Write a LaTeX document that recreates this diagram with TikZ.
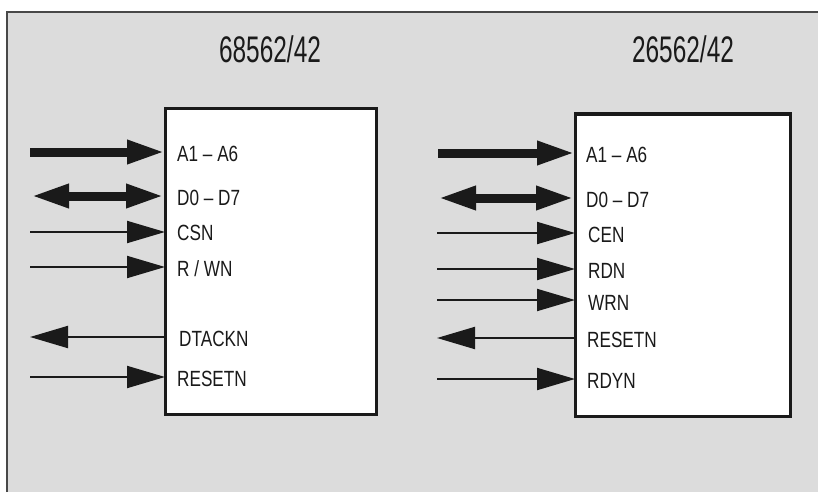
\documentclass[tikz,border=0pt]{standalone}
\usepackage{fontspec}
\setmainfont[FakeStretch=0.78]{Liberation Sans}
\newfontfamily\ttlfont[FakeStretch=0.66]{Liberation Sans}
\usetikzlibrary{arrows.meta}
\definecolor{bg}{HTML}{DCDCDC}
\definecolor{ink}{HTML}{1A1A1A}
\tikzset{
  chip/.style={draw=ink, line width=3pt, fill=white, inner sep=0pt, outer sep=0pt},
  lbl/.style={anchor=west, inner sep=0pt, font=\fontsize{22}{22}\selectfont, text=ink},
  ttl/.style={inner sep=0pt, font=\ttlfont\fontsize{37}{37}\selectfont, text=ink},
  bus/.style={draw=ink, line width=9pt, -{Triangle[length=38pt,width=22pt]}},
  bibus/.style={draw=ink, line width=9pt, {Triangle[length=38pt,width=22pt]}-{Triangle[length=38pt,width=22pt]}},
  sig/.style={draw=ink, line width=2pt, -{Triangle[length=38pt,width=22pt]}},
}
\begin{document}
\begin{tikzpicture}[x=1pt,y=-1pt]
\useasboundingbox (0,0) rectangle (818,492);
\fill[white] (0,0) rectangle (818,492);
\fill[bg] (7,12) rectangle (818,492);
\draw[ink!80, line width=1.5pt] (7,492) -- (7,12) -- (818,12);

% chip 1
\node[chip, minimum width=211pt, minimum height=305pt] (c1) at (270.5,261.5) {};
\node[ttl] (t1) at (270,49) {68562/42};
\coordinate (a1) at (165,152);
\coordinate (a2) at (165,196);
\coordinate (a3) at (165,232);
\coordinate (a4) at (165,267);
\coordinate (a5) at (165,337);
\coordinate (a6) at (165,377);
\coordinate (s1) at (30,152);
\coordinate (s2) at (31,196);
\coordinate (s3) at (30,232);
\coordinate (s4) at (30,267);
\coordinate (s5) at (30,337);
\coordinate (s6) at (30,377);
\node[lbl] (l1) at (177,154) {A1 – A6};
\node[lbl] (l2) at (177,198) {D0 – D7};
\node[lbl] (l3) at (177,233) {CSN};
\node[lbl] (l4) at (177,269) {R / WN};
\node[lbl] (l5) at (179,339) {DTACKN};
\node[lbl] (l6) at (177,379) {RESETN};
\draw[bus] (s1) -- (a1);
\draw[bibus] (s2) -- ([xshift=-1pt]a2);
\draw[sig] (s3) -- (a3);
\draw[sig] (s4) -- (a4);
\draw[sig] (a5) -- (s5);
\draw[sig] (s6) -- (a6);

% chip 2
\node[chip, minimum width=215pt, minimum height=302pt] (c2) at (682.5,265) {};
\node[ttl] (t2) at (683,49) {26562/42};
\coordinate (b1) at (575,153);
\coordinate (b2) at (575,198);
\coordinate (b3) at (575,233);
\coordinate (b4) at (575,269);
\coordinate (b5) at (575,300);
\coordinate (b6) at (575,338);
\coordinate (b7) at (575,379);
\coordinate (r1) at (438,153);
\coordinate (r2) at (438,198);
\coordinate (r3) at (437,233);
\coordinate (r4) at (437,269);
\coordinate (r5) at (437,300);
\coordinate (r6) at (437,338);
\coordinate (r7) at (437,379);
\node[lbl] (m1) at (586,155) {A1 – A6};
\node[lbl] (m2) at (586,200) {D0 – D7};
\node[lbl] (m3) at (588,235) {CEN};
\node[lbl] (m4) at (588,271) {RDN};
\node[lbl] (m5) at (588,303) {WRN};
\node[lbl] (m6) at (587,340) {RESETN};
\node[lbl] (m7) at (587,381) {RDYN};
\draw[bus] (r1) -- (b1);
\draw[bibus] (r2) -- ([xshift=-1pt]b2);
\draw[sig] (r3) -- (b3);
\draw[sig] (r4) -- (b4);
\draw[sig] (r5) -- (b5);
\draw[sig] (b6) -- (r6);
\draw[sig] (r7) -- (b7);
\end{tikzpicture}
\end{document}
